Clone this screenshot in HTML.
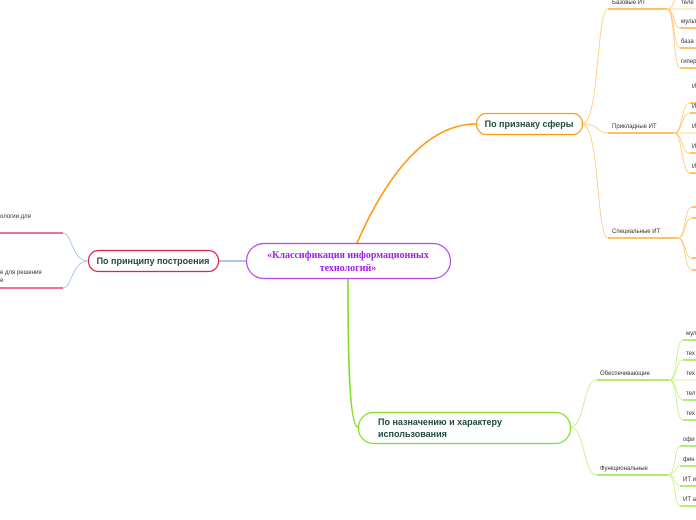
<!DOCTYPE html>
<html><head><meta charset="utf-8"><style>
html,body{margin:0;padding:0;background:#fff;width:696px;height:520px;overflow:hidden}
svg{display:block}
.l{font-family:"Liberation Sans",sans-serif;font-size:6px;fill:#333}
.m{font-family:"Liberation Sans",sans-serif;font-size:9px;font-weight:bold;fill:#1f4a3a}
</style></head><body>
<svg width="696" height="520" viewBox="0 0 696 520" xmlns="http://www.w3.org/2000/svg">
<g fill="none">
<!-- root to nodes -->
<path d="M357 243 C380 190 420 124 476 124" stroke="#ff9a10" stroke-width="1.6"/>
<path d="M348 278 C348 330 348 427 358 427" stroke="#80e020" stroke-width="1.6"/>
<path d="M218 261 L246 261" stroke="#8fb0f0" stroke-width="1.6"/>
<!-- left -->
<g stroke="#9ab4f5" stroke-width="0.8">
<path d="M88 261 C72 261 72 233 63 233"/><path d="M88 261 C72 261 72 288 63 288"/>
</g>
<g stroke="#e0204a" stroke-width="1.2"><path d="M0 233 H63"/><path d="M0 288 H63"/></g>
<!-- orange -->
<g stroke="#ffc870" stroke-width="0.8">
<path d="M582 124 C600 124 596 9 608 9"/><path d="M582 124 C600 124 596 133 608 133"/><path d="M582 124 C600 124 596 238 608 238"/>
<path d="M667 9 C675 9 673 -5 680 -5"/><path d="M667 9 C675 9 673 28 680 28"/><path d="M667 9 C675 9 673 48 680 48"/><path d="M667 9 C675 9 673 68 680 68"/><path d="M667 9 H696"/>
<path d="M674 133 C683 133 681 103 690 103"/><path d="M674 133 C683 133 681 113 690 113"/><path d="M674 133 H696"/><path d="M674 133 C683 133 681 153 690 153"/><path d="M674 133 C683 133 681 173 690 173"/>
<path d="M678 238 C686 238 684 207 692 207"/><path d="M678 238 C686 238 684 218 692 218"/><path d="M678 238 C686 238 684 258 692 258"/><path d="M678 238 C686 238 684 270 692 270"/>
</g>
<g stroke="#ff9a10" stroke-width="1.2">
<path d="M608 9 H667"/><path d="M608 133 H674"/><path d="M608 238 H678"/>
<path d="M680 28 H696"/><path d="M680 48 H696"/><path d="M680 68 H696"/>
<path d="M690 103 H696"/><path d="M690 113 H696"/><path d="M690 153 H696"/><path d="M690 173 H696"/>
<path d="M692 207 H696"/><path d="M692 218 H696"/><path d="M692 258 H696"/><path d="M692 270 H696"/>
</g>
<!-- green -->
<g stroke="#c0f080" stroke-width="0.8">
<path d="M570 427 C586 427 582 380 597 380"/><path d="M570 427 C586 427 582 475 597 475"/>
<path d="M669 380 C678 380 675 340 683 340"/><path d="M669 380 C678 380 675 360 683 360"/><path d="M669 380 H696"/><path d="M669 380 C678 380 675 400 683 400"/><path d="M669 380 C678 380 675 420 683 420"/>
<path d="M668 475 C676 475 674 446 680 446"/><path d="M668 475 C676 475 674 466 680 466"/><path d="M668 475 C676 475 674 486 680 486"/><path d="M668 475 C676 475 674 506 680 506"/>
</g>
<g stroke="#80e020" stroke-width="1.2">
<path d="M597 380 H669"/><path d="M597 475 H668"/>
<path d="M683 340 H696"/><path d="M683 360 H696"/><path d="M683 400 H696"/><path d="M683 420 H696"/>
<path d="M680 446 H696"/><path d="M680 466 H696"/><path d="M680 486 H696"/><path d="M680 506 H696"/>
</g>
</g>
<!-- nodes -->
<rect x="246.5" y="243.5" width="204" height="35" rx="17.5" fill="#fff" stroke="#b048f0" stroke-width="1.2"/>
<text x="348" y="258" text-anchor="middle" font-family="Liberation Serif,serif" font-size="10" font-weight="bold" fill="#a020f0">«Классификация информационных</text>
<text x="348" y="271" text-anchor="middle" font-family="Liberation Serif,serif" font-size="10" font-weight="bold" fill="#a020f0">технологий»</text>
<rect x="88.5" y="250.5" width="130" height="21" rx="10" fill="#fff" stroke="#e0204a" stroke-width="1.2"/>
<text x="153" y="264" text-anchor="middle" class="m">По принципу построения</text>
<rect x="476.5" y="113.5" width="106" height="21" rx="10" fill="#fff" stroke="#ff9a10" stroke-width="1.2"/>
<text x="529" y="127" text-anchor="middle" class="m">По признаку сферы</text>
<rect x="358.5" y="412.5" width="212" height="31" rx="15" fill="#fff" stroke="#80e020" stroke-width="1.2"/>
<text x="378" y="425" class="m">По назначению и характеру</text>
<text x="378" y="437" class="m">использования</text>
<!-- labels -->
<text class="l" x="0" y="218">ологии для</text>
<text class="l" x="0" y="274">е для решения</text>
<text class="l" x="0" y="282">е</text>
<text class="l" x="612" y="4">Базовые ИТ</text>
<text class="l" x="612" y="128">Прикладные ИТ</text>
<text class="l" x="612" y="233">Специальные ИТ</text>
<text class="l" x="681" y="4">теле</text>
<text class="l" x="681" y="23">мульт</text>
<text class="l" x="681" y="43">база</text>
<text class="l" x="681" y="63">гипер</text>
<text class="l" x="692" y="88">И</text>
<text class="l" x="692" y="108">И</text>
<text class="l" x="692" y="128">И</text>
<text class="l" x="692" y="148">И</text>
<text class="l" x="692" y="168">И</text>
<text class="l" x="600" y="375">Обеспечивающие</text>
<text class="l" x="600" y="470">Функциональные</text>
<text class="l" x="686" y="335">мул</text>
<text class="l" x="686" y="355">тех</text>
<text class="l" x="686" y="375">тех</text>
<text class="l" x="686" y="395">тел</text>
<text class="l" x="686" y="415">тех</text>
<text class="l" x="683" y="441">офи</text>
<text class="l" x="683" y="461">фин</text>
<text class="l" x="683" y="481">ИТ и</text>
<text class="l" x="683" y="501">ИТ а</text>
</svg>
</body></html>
